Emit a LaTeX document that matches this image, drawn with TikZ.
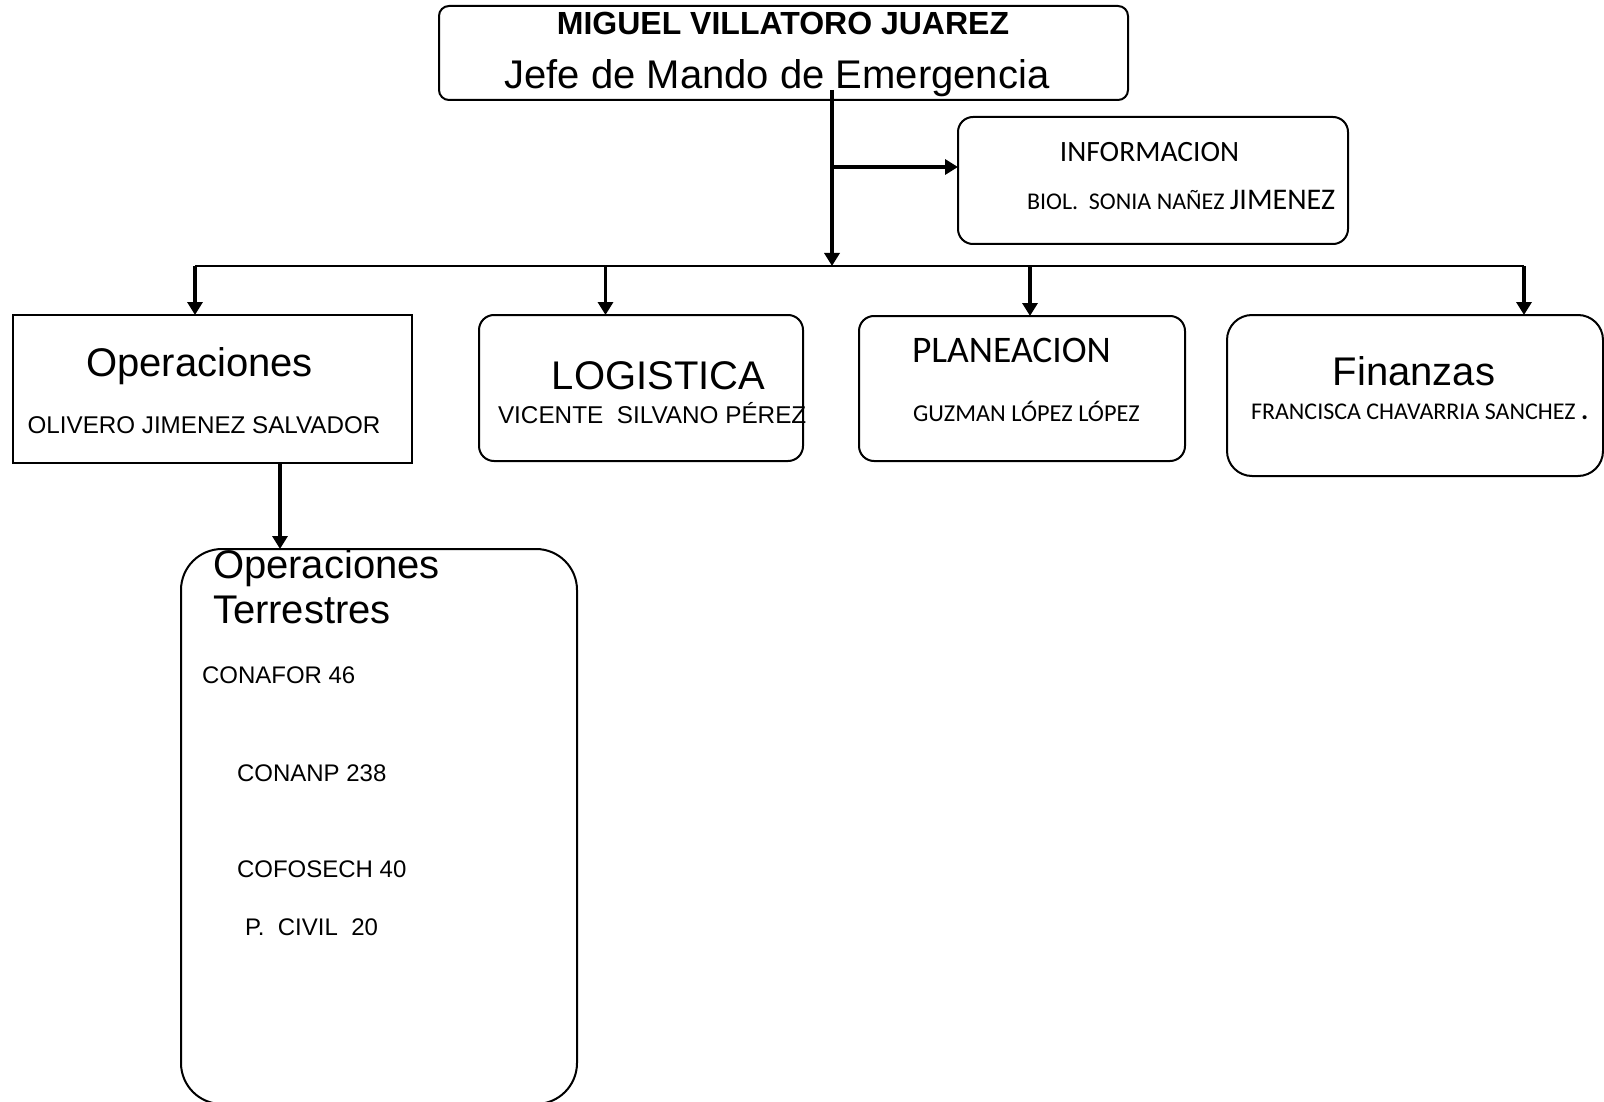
\documentclass[tikz,border=0pt]{standalone}
\usepackage{fontspec}
\setmainfont{Liberation Sans}
\newfontfamily\calfont{Carlito}
\usetikzlibrary{arrows.meta}
\newcommand\pxsize[1]{\fontsize{#1}{#1}\selectfont}
\begin{document}
\begin{tikzpicture}[x=1pt,y=-1pt,
  box/.style={draw, line width=2pt, inner sep=0pt, outer sep=0pt},
  conn/.style={line width=2.6pt},
  arr/.style={line width=3.8pt, -{Triangle[length=13pt,width=15pt]}},
  txt/.style={anchor=base, inner sep=0pt, outer sep=0pt},
  txtl/.style={anchor=base west, inner sep=0pt, outer sep=0pt}]
\useasboundingbox (0,0) rectangle (1604,1102);

% boxes
\node[box, rounded corners=10pt, minimum width=689pt, minimum height=94pt] (top) at (783.5,53) {};
\node[box, rounded corners=15pt, minimum width=390pt, minimum height=127pt] (info) at (1153,180.5) {};
\node[box, minimum width=399pt, minimum height=148pt] (ops) at (212.5,389) {};
\node[box, rounded corners=15pt, minimum width=324pt, minimum height=146pt] (log) at (641,388) {};
\node[box, rounded corners=15pt, minimum width=326pt, minimum height=145pt] (plan) at (1022,388.5) {};
\node[box, rounded corners=25pt, minimum width=376pt, minimum height=161pt] (fin) at (1415,395.5) {};
\node[box, rounded corners=41pt, minimum width=396pt, minimum height=555pt] (ot) at (379,826.5) {};

% texts
\node[txt, font=\bfseries\pxsize{32}] (t1) at (783,35) {MIGUEL VILLATORO JUAREZ};
\node[txt, font=\pxsize{40}] (t2) at (777,88.5) {Jefe de Mando de Emergencia};
\node[txt, font=\calfont\pxsize{29.5}] (t3) at (1149.5,161.7) {INFORMACION};
\node[txtl, font=\calfont\pxsize{24}] (t4) at (1027,209.5) {BIOL.\ \ SONIA NAÑEZ {\pxsize{30}JIMENEZ}};
\node[txt, font=\pxsize{40}] (t5) at (199.5,376) {Operaciones};
\node[txt, font=\pxsize{24.2}] (t6) at (204,433) {OLIVERO JIMENEZ SALVADOR};
\node[txt, font=\pxsize{40}] (t7) at (658.5,389) {LOGISTICA};
\node[txtl, font=\pxsize{24.3}] (t8) at (498,423) {VICENTE\ \ SILVANO PÉREZ};
\node[txtl, font=\calfont\pxsize{37.5}] (t9) at (912,362) {PLANEACION};
\node[txtl, font=\calfont\pxsize{24.3}] (t10) at (913,421) {GUZMAN LÓPEZ LÓPEZ};
\node[txt, font=\pxsize{40}] (t11) at (1414,385) {Finanzas};
\node[txtl, font=\calfont\pxsize{24}] (t12) at (1251,419) {FRANCISCA CHAVARRIA SANCHEZ {\bfseries\pxsize{27}.}};
\node[txtl, font=\pxsize{40}] (t13) at (213,578) {Operaciones};
\node[txtl, font=\pxsize{40}] (t14) at (213,623) {Terrestres};
\node[txtl, font=\pxsize{24}] (t15) at (202,683) {CONAFOR 46};
\node[txtl, font=\pxsize{24}] (t16) at (237,781) {CONANP 238};
\node[txtl, font=\pxsize{24}] (t17) at (237,877) {COFOSECH 40};
\node[txtl, font=\pxsize{24}] (t18) at (245,935) {P.\ \ CIVIL\ \ 20};

% connectors
\coordinate (mstart) at (832,90);
\coordinate (mj) at (832,266);
\coordinate (ij) at (832,167);
\coordinate (b1) at (195,266);
\coordinate (b2) at (605.5,266);
\coordinate (b3) at (1030,266);
\coordinate (b4) at (1524,266);
\coordinate (otx) at (280,549);

\draw[conn] (b1) -- (b4);
\draw[arr] (mstart) -- (mj);
\draw[arr, line width=3.3pt] (ij) -- (info.west |- ij);
\draw[arr] (b1) -- (ops.north -| b1);
\draw[arr] (b2) -- (log.north -| b2);
\draw[arr] (b3) -- (plan.north -| b3);
\draw[arr] (b4) -- (fin.north -| b4);
\draw[arr] (ops.south -| otx) -- (ot.north -| otx);
\end{tikzpicture}
\end{document}
